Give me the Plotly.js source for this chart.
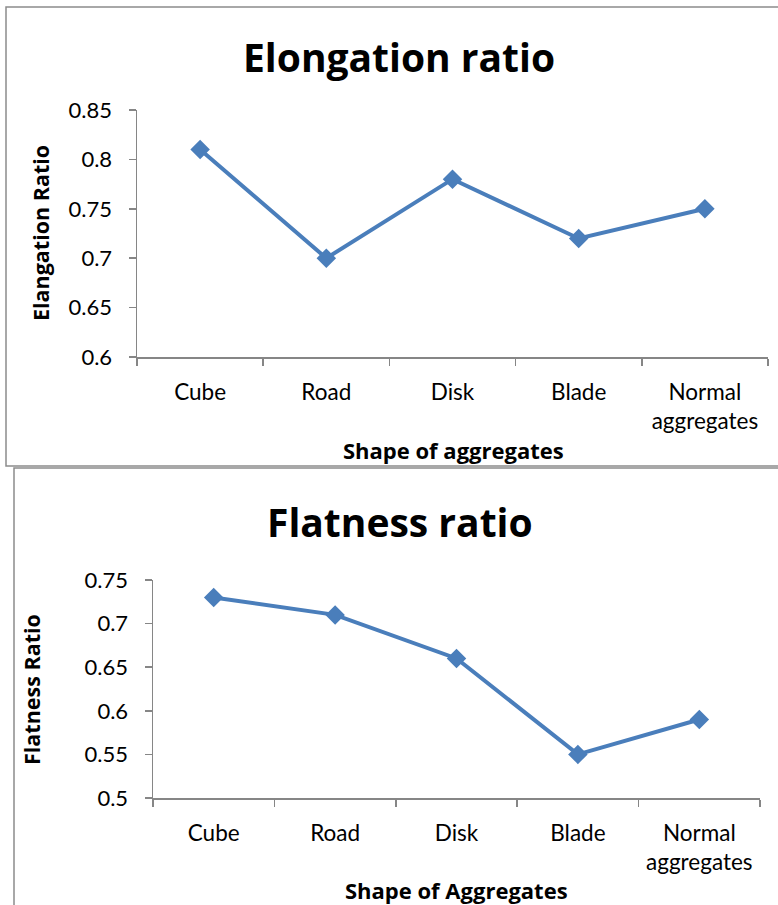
<!DOCTYPE html>
<html>
<head>
<meta charset="utf-8">
<script src="https://cdn.plot.ly/plotly-3.0.1.min.js"></script>
<style>html,body{margin:0;padding:0;background:#fff;}#chart{width:778px;height:905px;}</style>
</head>
<body>
<div id="chart"></div>
<script>
// Data
const categories = ["Cube", "Road", "Disk", "Blade", "Normal<br>aggregates"];
const elongationRatio = [0.81, 0.70, 0.78, 0.72, 0.75];
const flatnessRatio = [0.73, 0.71, 0.66, 0.55, 0.59];
const elongationTicks = [0.6, 0.65, 0.7, 0.75, 0.8, 0.85];
const elongationTickText = ["0.6", "0.65", "0.7", "0.75", "0.8", "0.85"];
const flatnessTicks = [0.5, 0.55, 0.6, 0.65, 0.7, 0.75];
const flatnessTickText = ["0.5", "0.55", "0.6", "0.65", "0.7", "0.75"];

const W = 778, H = 905;
const px = v => v / W;
const py = v => 1 - v / H;

const FONT = "Lato, 'Open Sans', sans-serif";
const BFONT = "'Open Sans', Lato, sans-serif";
const LINE = "#4A7EBB";
const AX = "#868686";

const traceStyle = {
  mode: "lines+markers",
  line: {color: LINE, width: 4},
  marker: {symbol: "diamond", size: 15, color: LINE},
  hoverinfo: "x+y",
  showlegend: false
};

const traces = [
  Object.assign({x: categories, y: elongationRatio, xaxis: "x", yaxis: "y"}, traceStyle),
  Object.assign({x: categories, y: flatnessRatio, xaxis: "x2", yaxis: "y2"}, traceStyle)
];

function xAx(domain, anchor) {
  return {
    domain: domain, anchor: anchor, type: "category",
    range: [-0.5, 4.5], showgrid: false, zeroline: false,
    showline: true, linecolor: AX, linewidth: 1.5,
    ticks: "outside", tickson: "boundaries", ticklen: 7, tickcolor: AX, tickwidth: 1.5,
    tickfont: {family: FONT, size: 22.5, color: "#000"},
    ticklabelstandoff: 14, fixedrange: true
  };
}
function yAx(domain, anchor, range, tv, tt) {
  return {
    domain: domain, anchor: anchor, range: range,
    tickmode: "array", tickvals: tv, ticktext: tt,
    showgrid: false, zeroline: false,
    showline: true, linecolor: AX, linewidth: 1.5,
    ticks: "outside", ticklen: 7, tickcolor: AX, tickwidth: 1.5,
    tickfont: {family: FONT, size: 22, color: "#000"},
    ticklabelstandoff: 12, fixedrange: true
  };
}

const layout = {
  width: W, height: H,
  margin: {l: 0, r: 0, t: 0, b: 0},
  paper_bgcolor: "#fff", plot_bgcolor: "rgba(0,0,0,0)",
  xaxis: xAx([px(137), px(768)], "y"),
  yaxis: yAx([py(357), py(110)], "x", [0.6, 0.85], elongationTicks, elongationTickText),
  xaxis2: xAx([px(153), px(760)], "y2"),
  yaxis2: yAx([py(798), py(580)], "x2", [0.5, 0.75], flatnessTicks, flatnessTickText),
  shapes: [
    {type: "rect", xref: "paper", yref: "paper", x0: px(6), x1: px(790), y0: py(466), y1: py(7),
     line: {color: "#8c8c8c", width: 1.5}, fillcolor: "rgba(0,0,0,0)", layer: "below"},
    {type: "rect", xref: "paper", yref: "paper", x0: px(14), x1: px(790), y0: py(920), y1: py(468),
     line: {color: "#8c8c8c", width: 1.5}, fillcolor: "rgba(0,0,0,0)", layer: "below"}
  ],
  annotations: [
    {text: "<b>Elongation ratio</b>", xref: "paper", yref: "paper", x: px(399), y: py(57),
     xanchor: "center", yanchor: "middle", showarrow: false, font: {family: BFONT, size: 39, color: "#000"}},
    {text: "<b>Flatness ratio</b>", xref: "paper", yref: "paper", x: px(400), y: py(521),
     xanchor: "center", yanchor: "middle", showarrow: false, font: {family: BFONT, size: 39, color: "#000"}},
    {text: "<b>Elangation Ratio</b>", xref: "paper", yref: "paper", x: px(40), y: py(233),
     xanchor: "center", yanchor: "middle", textangle: -90, showarrow: false, font: {family: BFONT, size: 21.5, color: "#000"}},
    {text: "<b>Flatness Ratio</b>", xref: "paper", yref: "paper", x: px(31), y: py(690),
     xanchor: "center", yanchor: "middle", textangle: -90, showarrow: false, font: {family: BFONT, size: 21.5, color: "#000"}},
    {text: "<b>Shape of aggregates</b>", xref: "paper", yref: "paper", x: px(453), y: py(450),
     xanchor: "center", yanchor: "middle", showarrow: false, font: {family: BFONT, size: 22, color: "#000"}},
    {text: "<b>Shape of Aggregates</b>", xref: "paper", yref: "paper", x: px(456), y: py(890),
     xanchor: "center", yanchor: "middle", showarrow: false, font: {family: BFONT, size: 22, color: "#000"}}
  ]
};

Plotly.newPlot("chart", traces, layout, {displayModeBar: false, staticPlot: true});
</script>
</body>
</html>
